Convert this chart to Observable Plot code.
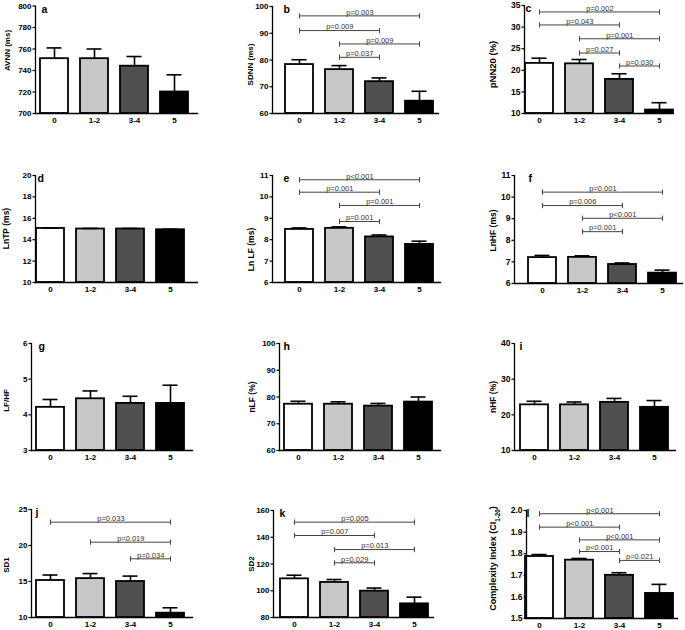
<!DOCTYPE html>
<html><head><meta charset="utf-8">
<script src="https://cdn.jsdelivr.net/npm/d3@7"></script>
<script src="https://cdn.jsdelivr.net/npm/@observablehq/plot@0.6"></script>
<style>
body{margin:0;background:#fff;}
#fig{position:relative;width:685px;height:630px;overflow:hidden;background:#fff;font-family:"Liberation Sans",Arial,sans-serif;}
#fig > div{position:absolute;}
svg{overflow:visible}
</style></head><body><div id="fig"></div>
<script>
// ---------- DATA ----------
const groups = ["0", "1-2", "3-4", "5"];
const groupFills = ["#ffffff", "#c8c8c8", "#505050", "#000000"];

// a: AVNN
const avnnMean = [751, 751, 744, 720];
const avnnSem = [10, 9, 9, 16];
const avnnTicks = [700, 720, 740, 760, 780, 800];
const avnnBrackets = [];

// b: SDNN
const sdnnMean = [78.3, 76.4, 71.9, 64.6];
const sdnnSem = [1.8, 1.5, 1.4, 3.7];
const sdnnTicks = [60, 70, 80, 90, 100];
const sdnnBrackets = [
  {from: "0", to: "5", y: 96.5, p: "p=0.003"},
  {from: "0", to: "3-4", y: 91, p: "p=0.009"},
  {from: "1-2", to: "5", y: 86, p: "p=0.009"},
  {from: "1-2", to: "3-4", y: 81, p: "p=0.037"}
];

// c: pNN20
const pnnMean = [21.6, 21.5, 17.9, 10.8];
const pnnSem = [1.2, 1.0, 1.3, 1.7];
const pnnTicks = [10, 15, 20, 25, 30, 35];
const pnnBrackets = [
  {from: "0", to: "5", y: 33.5, p: "p=0.002"},
  {from: "0", to: "3-4", y: 30.5, p: "p=0.043"},
  {from: "1-2", to: "5", y: 27.3, p: "p=0.001"},
  {from: "1-2", to: "3-4", y: 24, p: "p=0.027"},
  {from: "3-4", to: "5", y: 21, p: "p=0.030"}
];

// d: LnTP
const lntpMean = [15.05, 15.0, 15.0, 14.93];
const lntpSem = [0.05, 0.05, 0.05, 0.05];
const lntpTicks = [10, 12, 14, 16, 18, 20];
const lntpBrackets = [];

// e: LnLF
const lnlfMean = [8.48, 8.53, 8.13, 7.78];
const lnlfSem = [0.07, 0.07, 0.09, 0.15];
const lnlfTicks = [6, 7, 8, 9, 10, 11];
const lnlfBrackets = [
  {from: "0", to: "5", y: 10.8, p: "p<0.001"},
  {from: "0", to: "3-4", y: 10.22, p: "p=0.001"},
  {from: "1-2", to: "5", y: 9.6, p: "p=0.001"},
  {from: "1-2", to: "3-4", y: 8.85, p: "p=0.001"}
];

// f: LnHF
const lnhfMean = [7.2, 7.21, 6.88, 6.48];
const lnhfSem = [0.1, 0.07, 0.07, 0.14];
const lnhfTicks = [6, 7, 8, 9, 10, 11];
const lnhfBrackets = [
  {from: "0", to: "5", y: 10.23, p: "p=0.001"},
  {from: "0", to: "3-4", y: 9.61, p: "p=0.006"},
  {from: "1-2", to: "5", y: 9.02, p: "p<0.001"},
  {from: "1-2", to: "3-4", y: 8.4, p: "p=0.001"}
];

// g: LF/HF
const lfhfMean = [4.21, 4.45, 4.32, 4.32];
const lfhfSem = [0.22, 0.22, 0.2, 0.51];
const lfhfTicks = [3, 4, 5, 6];
const lfhfBrackets = [];

// h: nLF
const nlfMean = [77.3, 77.3, 76.6, 78.1];
const nlfSem = [1.1, 0.9, 1.0, 1.9];
const nlfTicks = [60, 70, 80, 90, 100];
const nlfBrackets = [];

// i: nHF
const nhfMean = [22.8, 22.8, 23.5, 22.1];
const nhfSem = [1.0, 0.8, 1.1, 1.9];
const nhfTicks = [10, 20, 30, 40];
const nhfBrackets = [];

// j: SD1
const sd1Mean = [15.14, 15.4, 15.0, 10.6];
const sd1Sem = [0.76, 0.7, 0.75, 0.75];
const sd1Ticks = [10, 15, 20, 25];
const sd1Brackets = [
  {from: "0", to: "5", y: 23.24, p: "p=0.033"},
  {from: "1-2", to: "5", y: 20.46, p: "p=0.019"},
  {from: "3-4", to: "5", y: 18.15, p: "p=0.034"}
];

// k: SD2
const sd2Mean = [108.9, 106.2, 99.7, 90.2];
const sd2Sem = [2.7, 2.2, 2.3, 5.0];
const sd2Ticks = [80, 100, 120, 140, 160];
const sd2Brackets = [
  {from: "0", to: "5", y: 151.3, p: "p=0.005"},
  {from: "0", to: "3-4", y: 141.3, p: "p=0.007"},
  {from: "1-2", to: "5", y: 130.8, p: "p=0.013"},
  {from: "1-2", to: "3-4", y: 120.9, p: "p=0.029"}
];

// l: Complexity index
const ciMean = [1.787, 1.770, 1.700, 1.616];
const ciSem = [0.009, 0.008, 0.012, 0.042];
const ciTicks = [1.5, 1.6, 1.7, 1.8, 1.9, 2.0];
const ciBrackets = [
  {from: "0", to: "5", y: 1.985, p: "p<0.001"},
  {from: "0", to: "3-4", y: 1.923, p: "p<0.001"},
  {from: "1-2", to: "5", y: 1.864, p: "p<0.001"},
  {from: "1-2", to: "3-4", y: 1.81, p: "p<0.001"},
  {from: "3-4", to: "5", y: 1.769, p: "p=0.021"}
];

const panels = [
  {id: "a", label: "AVNN (ms)", mean: avnnMean, sem: avnnSem, ticks: avnnTicks, brackets: avnnBrackets},
  {id: "b", label: "SDNN (ms)", mean: sdnnMean, sem: sdnnSem, ticks: sdnnTicks, brackets: sdnnBrackets},
  {id: "c", label: "pNN20 (%)", mean: pnnMean, sem: pnnSem, ticks: pnnTicks, brackets: pnnBrackets},
  {id: "d", label: "LnTP (ms)", mean: lntpMean, sem: lntpSem, ticks: lntpTicks, brackets: lntpBrackets},
  {id: "e", label: "Ln LF (ms)", mean: lnlfMean, sem: lnlfSem, ticks: lnlfTicks, brackets: lnlfBrackets},
  {id: "f", label: "LnHF (ms)", mean: lnhfMean, sem: lnhfSem, ticks: lnhfTicks, brackets: lnhfBrackets},
  {id: "g", label: "LF/HF", mean: lfhfMean, sem: lfhfSem, ticks: lfhfTicks, brackets: lfhfBrackets},
  {id: "h", label: "nLF (%)", mean: nlfMean, sem: nlfSem, ticks: nlfTicks, brackets: nlfBrackets},
  {id: "i", label: "nHF (%)", mean: nhfMean, sem: nhfSem, ticks: nhfTicks, brackets: nhfBrackets},
  {id: "j", label: "SD1", mean: sd1Mean, sem: sd1Sem, ticks: sd1Ticks, brackets: sd1Brackets},
  {id: "k", label: "SD2", mean: sd2Mean, sem: sd2Sem, ticks: sd2Ticks, brackets: sd2Brackets},
  {id: "l", label: "Complexity Index (CI1-20)", mean: ciMean, sem: ciSem, ticks: ciTicks, brackets: ciBrackets, fmt: ".1f"}
];

// ---------- LAYOUT (page pixels) ----------
const layout = {
  a: {col: 0,   axisX: 35,  c0: 54,    end: 197, yTop: 5.5, yBot: 113, labelX: 7,     labelY: 50,    labelSize: 8,   tickFont: 8,   letterDx: 6},
  b: {col: 228, axisX: 272, c0: 298.5, end: 438, yTop: 6,   yBot: 113, labelX: 250,   labelY: 64,    labelSize: 8,   tickFont: 8,   letterDx: 11},
  c: {col: 455, axisX: 524, c0: 538.5, end: 673, yTop: 5,   yBot: 113, labelX: 492,   labelY: 64,    labelSize: 9.5, tickFont: 8.5, letterDx: 1},
  d: {col: 0,   axisX: 35,  c0: 50,    end: 197, yTop: 175, yBot: 282, labelX: 6,     labelY: 228,   labelSize: 8.5, tickFont: 8,   letterDx: 2},
  e: {col: 228, axisX: 272, c0: 299,   end: 440, yTop: 175, yBot: 282, labelX: 250.5, labelY: 249,   labelSize: 8.5, tickFont: 8,   letterDx: 11},
  f: {col: 455, axisX: 514, c0: 542,   end: 682, yTop: 175, yBot: 283, labelX: 493,   labelY: 230,   labelSize: 8.5, tickFont: 8.5, letterDx: 14},
  g: {col: 0,   axisX: 31,  c0: 50,    end: 192, yTop: 343, yBot: 450, labelX: 6,     labelY: 400,   labelSize: 8,   tickFont: 8,   letterDx: 7},
  h: {col: 228, axisX: 279, c0: 298,   end: 440, yTop: 343, yBot: 450, labelX: 251.5, labelY: 396.5, labelSize: 8.5, tickFont: 8,   letterDx: 4},
  i: {col: 455, axisX: 514, c0: 534,   end: 675, yTop: 343, yBot: 450, labelX: 492.5, labelY: 396.5, labelSize: 8.5, tickFont: 8.5, letterDx: 5},
  j: {col: 0,   axisX: 31,  c0: 50,    end: 192, yTop: 509, yBot: 617, labelX: 6,     labelY: 564.5, labelSize: 8,   tickFont: 8,   letterDx: 4},
  k: {col: 228, axisX: 273, c0: 294,   end: 433, yTop: 510, yBot: 617, labelX: 251,   labelY: 563.5, labelSize: 8,   tickFont: 8,   letterDx: 6},
  l: {col: 455, axisX: 526, c0: 539,   end: 677, yTop: 510, yBot: 618, labelX: 493,   labelY: 558,   labelSize: 9,   tickFont: 8.5, letterDx: 0}
};

const STEP = 40.3;
const capSymbol = {draw(ctx, size) { const h = Math.sqrt(size / Math.PI); ctx.moveTo(0, -h); ctx.lineTo(0, h); }};

function buildPanel(spec, g) {
  const L = g.col;
  const T = Math.max(0, g.yTop - 14);
  const mb = 12, mr = 4;
  const width = g.end - L + mr;
  const height = g.yBot - T + mb;
  const marginLeft = g.axisX - L;
  const marginTop = g.yTop - T;
  const xRange = [g.c0 - STEP / 2 - L, g.c0 + 3.5 * STEP - L];
  const xOpts = {type: "band", domain: groups, range: xRange, paddingInner: 0.3, paddingOuter: 0.15};
  const xs = Plot.scale({x: xOpts});
  const rows = groups.map((grp, i) => ({group: grp, mean: spec.mean[i], sem: spec.sem[i], fill: groupFills[i]}));
  const ymin = spec.ticks[0], ymax = spec.ticks[spec.ticks.length - 1];
  const ends = spec.brackets.flatMap(b => [{x: b.from, y: b.y}, {x: b.to, y: b.y}]);
  const frameCenter = (g.yTop + g.yBot) / 2;

  const marks = [
    Plot.barY(rows, {x: "group", y1: ymin, y2: "mean", fill: "fill", stroke: "#000", strokeWidth: 1.8}),
    Plot.ruleX(rows, {x: "group", y1: "mean", y2: d => d.mean + d.sem, stroke: "#000", strokeWidth: 1.6}),
    Plot.tickY(rows, {x: "group", y: d => d.mean + d.sem, stroke: "#000", strokeWidth: 1.6, insetLeft: 6.5, insetRight: 6.5}),
    Plot.frame({anchor: "left", stroke: "#000", strokeWidth: 1.3}),
    Plot.frame({anchor: "bottom", stroke: "#000", strokeWidth: 1.3}),
    Plot.axisY(spec.ticks, {tickSize: 2.5, tickPadding: 1.5, fontWeight: "bold", fontSize: g.tickFont, label: null, stroke: "#000", strokeWidth: 1.2,
      tickFormat: spec.fmt ? d3.format(spec.fmt) : d => String(d)}),
    Plot.axisX({tickSize: 0, tickPadding: 3.5, fontWeight: "bold", fontSize: 8, label: null}),
    Plot.link(spec.brackets, {x1: "from", x2: "to", y1: "y", y2: "y", stroke: "#444", strokeWidth: 1}),
    Plot.dot(ends, {x: "x", y: "y", r: 2.6, symbol: capSymbol, stroke: "#444", strokeWidth: 1, fill: "none"}),
    ...spec.brackets.map(b => Plot.text([b], {x: "from", y: "y", text: "p", dx: (xs.apply(b.to) - xs.apply(b.from)) / 2, dy: -1.2,
      lineAnchor: "bottom", fontSize: 7.5, fill: "#333"})),
    Plot.text([spec.label], {text: d => d, frameAnchor: "left", rotate: -90, dx: g.labelX - g.axisX, dy: g.labelY - frameCenter,
      textAnchor: "middle", lineAnchor: "middle", fontWeight: "bold", fontSize: g.labelSize, fill: "#000"}),
    Plot.text([spec.id], {text: d => d, frameAnchor: "top-left", dx: g.letterDx, dy: -0.5, textAnchor: "start", lineAnchor: "top",
      fontWeight: "bold", fontSize: 10.5, fill: "#000"})
  ];

  const svg = Plot.plot({
    width, height, marginLeft, marginRight: mr, marginTop, marginBottom: mb,
    x: xOpts,
    y: {domain: [ymin, ymax]},
    color: {type: "identity"},
    style: {background: "transparent", overflow: "visible", fontFamily: "Liberation Sans, Arial, sans-serif"},
    marks
  });
  return {svg, L, T, width, height};
}

const fig = document.getElementById("fig");
for (const spec of panels) {
  const {svg, L, T, width, height} = buildPanel(spec, layout[spec.id]);
  const holder = document.createElement("div");
  holder.style.left = L + "px";
  holder.style.top = T + "px";
  holder.style.width = width + "px";
  holder.style.height = height + "px";
  holder.appendChild(svg);
  fig.appendChild(holder);
}

// subscript in the complexity index label
d3.selectAll("#fig text").each(function() {
  if (this.textContent === "Complexity Index (CI1-20)") {
    const t = d3.select(this);
    t.text(null);
    t.append("tspan").text("Complexity Index (CI");
    t.append("tspan").attr("baseline-shift", "sub").attr("font-size", "70%").text("1-20");
    t.append("tspan").text(")");
  }
});
</script></body></html>
